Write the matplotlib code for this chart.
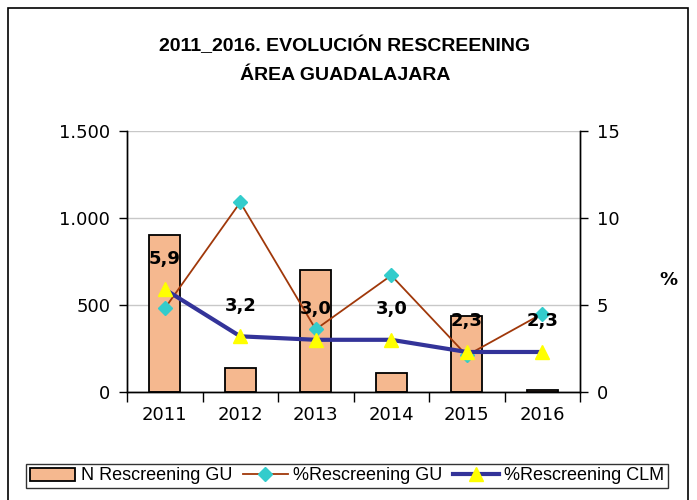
import numpy as np
import matplotlib.pyplot as plt
from matplotlib.patches import Rectangle
from matplotlib.ticker import FuncFormatter, FixedLocator

years = ['2011', '2012', '2013', '2014', '2015', '2016']
n_rescreening_gu = [900, 138, 700, 108, 435, 10]
pct_rescreening_gu = [4.8, 10.9, 3.6, 6.7, 2.1, 4.5]
pct_rescreening_clm = [5.9, 3.2, 3.0, 3.0, 2.3, 2.3]
clm_labels = ['5,9', '3,2', '3,0', '3,0', '2,3', '2,3']

arial = ['Liberation Sans', 'DejaVu Sans']

fig = plt.figure(figsize=(6.97, 5.0), dpi=100)
fig.patches.append(Rectangle((8 / 697, -0.1), 680 / 697, 1.1 - 8 / 500,
                             transform=fig.transFigure, fill=False,
                             edgecolor='black', linewidth=1.2))

ax = fig.add_axes([127 / 697, 1 - 392 / 500, 453 / 697, 261 / 500])
ax2 = ax.twinx()

x = np.arange(len(years))
ax.bar(x, n_rescreening_gu, width=0.41, color='#F5B88F', edgecolor='black',
       linewidth=1.3, label='N Rescreening GU', zorder=2)
ax.set_xlim(-0.5, len(years) - 0.5)
ax.set_ylim(0, 1500)
ax.yaxis.set_major_locator(FixedLocator([0, 500, 1000, 1500]))
ax.yaxis.set_major_formatter(FuncFormatter(lambda v, p: f'{int(v):,}'.replace(',', '.')))
ax.grid(axis='y', color='#c8c8c8', linewidth=1, zorder=0)
ax.set_axisbelow(True)

ax.set_xticks(x)
ax.set_xticklabels(years)
ax.set_xticks(np.arange(-0.5, len(years), 1), minor=True)
ax.tick_params(axis='x', which='major', length=0, pad=10, labelsize=13)
ax.tick_params(axis='x', which='minor', length=7, width=1)
ax.tick_params(axis='y', length=6, width=1, labelsize=13, pad=6)

ax2.plot(x, pct_rescreening_gu, color='#A0380A', linewidth=1.3, marker='D',
         markersize=7, markerfacecolor='#33CCCC', markeredgecolor='#33CCCC',
         label='%Rescreening GU', zorder=3)
ax2.plot(x, pct_rescreening_clm, color='#333399', linewidth=3, marker='^',
         markersize=10, markerfacecolor='#FFFF00', markeredgecolor='#FFFF00',
         label='%Rescreening CLM', zorder=4)
ax2.set_ylim(0, 15)
ax2.set_yticks([0, 5, 10, 15])
ax2.tick_params(axis='y', length=6, width=1, labelsize=13, pad=6)
for xi, yi, lab in zip(x, pct_rescreening_clm, clm_labels):
    ax2.annotate(lab, (xi, yi), xytext=(0, 22), textcoords='offset points',
                 ha='center', va='center', fontsize=13, fontweight='bold')

for a in (ax, ax2):
    for s in a.spines.values():
        s.set_linewidth(1)
ax.spines['top'].set_visible(False)
ax2.spines['top'].set_visible(False)

fig.text(668 / 697, 1 - 280 / 500, '%', ha='center', va='center',
         fontsize=13, fontweight='bold')
fig.text(345 / 697, 1 - 46 / 500, '2011_2016. EVOLUCIÓN RESCREENING',
         ha='center', va='center', fontsize=14, fontweight='bold', family=arial)
fig.text(345 / 697, 1 - 75 / 500, 'ÁREA GUADALAJARA',
         ha='center', va='center', fontsize=14, fontweight='bold', family=arial)

h1, l1 = ax.get_legend_handles_labels()
h2, l2 = ax2.get_legend_handles_labels()
leg = fig.legend(h1 + h2, l1 + l2, loc='center', bbox_to_anchor=(347 / 697, 1 - 476 / 500),
                 ncol=3, frameon=True, fancybox=False, edgecolor='black',
                 prop={'family': arial, 'size': 13}, handlelength=2.5,
                 handletextpad=0.3, columnspacing=0.6, borderpad=0.2)
leg.get_frame().set_linewidth(1)

plt.savefig('out.png', dpi=100)
